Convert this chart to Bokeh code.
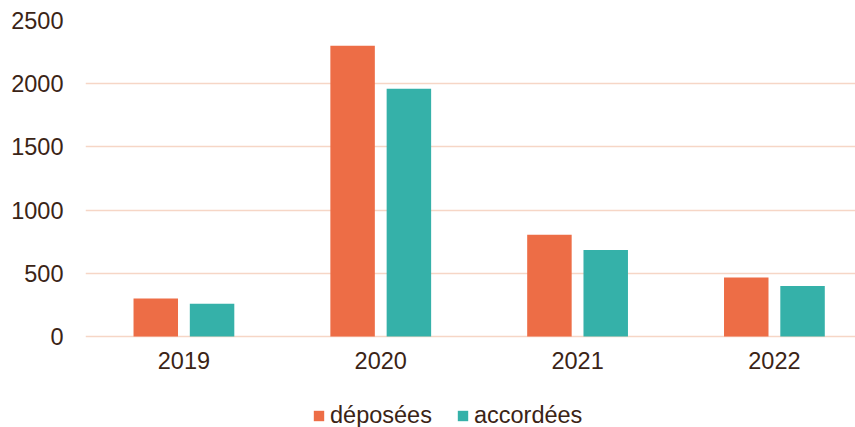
from bokeh.plotting import figure
from bokeh.models import Range1d, FixedTicker, Legend, LegendItem
from bokeh.embed import file_html
from bokeh.resources import INLINE

years = ["2019", "2020", "2021", "2022"]
deposees = [300, 2300, 805, 467]
accordees = [260, 1960, 685, 400]
y_ticks = [0, 500, 1000, 1500, 2000, 2500]

TEXT = "#3b2416"
GRID = "#f6d6c6"
ORANGE = "#ed6d46"
TEAL = "#35b1a9"
FONT = "Liberation Sans"
FS = "23.5px"

n = len(years)
centers = [i + 0.5 for i in range(n)]
off = 0.143
bw = 0.226

# frame spans from the top gridline down to the page bottom; the space under
# the zero line holds the category labels and the legend
p = figure(width=855, height=427, output_backend="svg", toolbar_location=None,
           x_range=Range1d(0, 3.912), y_range=Range1d(-720, 2500),
           min_border_left=85, min_border_right=0, min_border_top=20, min_border_bottom=0)
p.outline_line_color = None
p.background_fill_color = "white"
p.border_fill_color = "white"

r1 = p.vbar(x=[c - off for c in centers], top=deposees, width=bw, bottom=0,
            fill_color=ORANGE, line_color=None)
r2 = p.vbar(x=[c + off for c in centers], top=accordees, width=bw, bottom=0,
            fill_color=TEAL, line_color=None)

p.xgrid.grid_line_color = None
p.ygrid.grid_line_color = GRID
p.ygrid.grid_line_width = 1.7
p.ygrid.level = "underlay"

p.yaxis.ticker = FixedTicker(ticks=y_ticks)
p.xaxis.ticker = FixedTicker(ticks=centers)
p.xaxis.major_label_overrides = {c: y for c, y in zip(centers, years)}
p.xaxis.fixed_location = 0
for ax in (p.xaxis, p.yaxis):
    ax.axis_line_color = None
    ax.major_tick_line_color = None
    ax.minor_tick_line_color = None
    ax.major_tick_out = 0
    ax.major_tick_in = 0
    ax.minor_tick_out = 0
    ax.minor_tick_in = 0
    ax.major_label_text_font = FONT
    ax.major_label_text_font_size = FS
    ax.major_label_text_color = TEXT
p.yaxis.major_label_standoff = 22
p.xaxis.major_label_standoff = 16

legend = Legend(items=[LegendItem(label="déposées", renderers=[r1]),
                       LegendItem(label="accordées", renderers=[r2])],
                orientation="horizontal", location=(227, -2),
                padding=0, margin=0, spacing=24, label_standoff=5,
                glyph_width=13, glyph_height=13, label_height=20,
                label_text_font=FONT, label_text_font_size=FS, label_text_color=TEXT,
                background_fill_alpha=0, border_line_alpha=0)
p.add_layout(legend, "center")

open("out.html", "w").write(file_html(p, INLINE))
